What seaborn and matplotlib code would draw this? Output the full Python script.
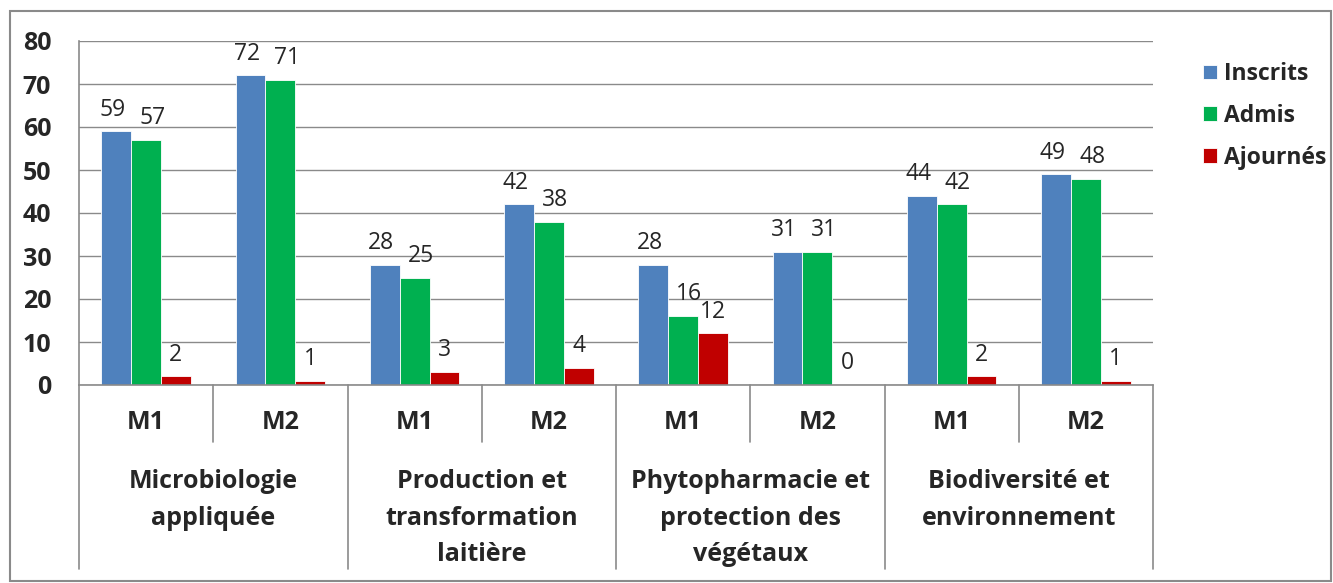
import numpy as np
import pandas as pd
import matplotlib.pyplot as plt
import matplotlib.patches as mpatches
import matplotlib.transforms as mtransforms
import seaborn as sns

filieres = ['Microbiologie\nappliquée',
            'Production et\ntransformation\nlaitière',
            'Phytopharmacie et\nprotection des\nvégétaux',
            'Biodiversité et\nenvironnement']
niveaux = ['M1', 'M2']
inscrits = [59, 72, 28, 42, 28, 31, 44, 49]
admis = [57, 71, 25, 38, 16, 31, 42, 48]
ajournes = [2, 1, 3, 4, 12, 0, 2, 1]
series = ['Inscrits', 'Admis', 'Ajournés']
colors = ['#4F81BD', '#00B050', '#C00000']
grey = '#8a8a8a'

sns.set_style('white')
plt.rcParams['font.family'] = ['Open Sans', 'DejaVu Sans']

groupes = [f'{f}|{n}' for f in filieres for n in niveaux]
df = pd.DataFrame({
    'groupe': groupes * 3,
    'serie': np.repeat(series, len(groupes)),
    'valeur': inscrits + admis + ajournes,
})

W, H = 1333, 583
fig = plt.figure(figsize=(W / 100, H / 100), dpi=100)
ax = fig.add_axes([79 / W, 1 - 385 / H, (1153 - 79) / W, 344 / H])

sns.barplot(data=df, x='groupe', y='valeur', hue='serie', order=groupes,
            hue_order=series, palette=colors, saturation=1, width=0.665,
            errorbar=None, edgecolor='white', linewidth=0.6, ax=ax)

# étiquettes de valeurs, légèrement écartées comme dans Excel
decalage = [-2.5, 4.5, 0]
for c, dx in zip(ax.containers, decalage):
    for t in ax.bar_label(c, padding=7, fontsize=16.5):
        t.xyann = (dx, t.xyann[1])

ax.set_ylim(0, 80)
ax.set_xlim(-0.5, len(groupes) - 0.5)
ax.set_yticks(range(0, 81, 10))
ax.set_yticklabels([str(v) for v in range(0, 81, 10)], fontweight='bold', fontsize=18)
ax.tick_params(axis='y', length=8, width=1, color=grey, pad=12)
ax.set_xticks([])
ax.set_xlabel('')
ax.set_ylabel('')
ax.yaxis.grid(True, color=grey, lw=1)
ax.set_axisbelow(True)
for s in ['top', 'right']:
    ax.spines[s].set_visible(False)
for s in ['left', 'bottom']:
    ax.spines[s].set_color(grey)
    ax.spines[s].set_linewidth(1.2)

# axe des catégories sur deux niveaux
trans = mtransforms.blended_transform_factory(ax.transData, ax.transAxes)
for i in range(len(groupes) + 1):
    b = i - 0.5
    y_end = -0.535 if i % 2 == 0 else -0.166
    ax.plot([b, b], [0, y_end], transform=trans, clip_on=False, color=grey, lw=1.2)
for i, g in enumerate(groupes):
    ax.text(i, -0.110, g.split('|')[1], transform=trans, ha='center', va='center',
            fontsize=18, fontweight='bold')
for j, f in enumerate(filieres):
    ax.text(2 * j + 0.5, -0.245, f, transform=trans, ha='center', va='top',
            fontsize=18, fontweight='bold', linespacing=1.6)

handles, labels = ax.get_legend_handles_labels()
ax.get_legend().remove()
fig.legend(handles, labels, loc='upper left', bbox_to_anchor=(1203 / W, 1 - 62 / H),
           frameon=False, prop=dict(weight='bold', size=16.5), handlelength=0.62,
           handleheight=0.62, handletextpad=0.3, labelspacing=0.78,
           borderaxespad=0, borderpad=0)

fig.add_artist(mpatches.Rectangle((10 / W, 2 / H), 1321 / W, 570 / H,
                                  transform=fig.transFigure, fill=False,
                                  ec=grey, lw=1.5))

fig.savefig('out.png', dpi=100)
